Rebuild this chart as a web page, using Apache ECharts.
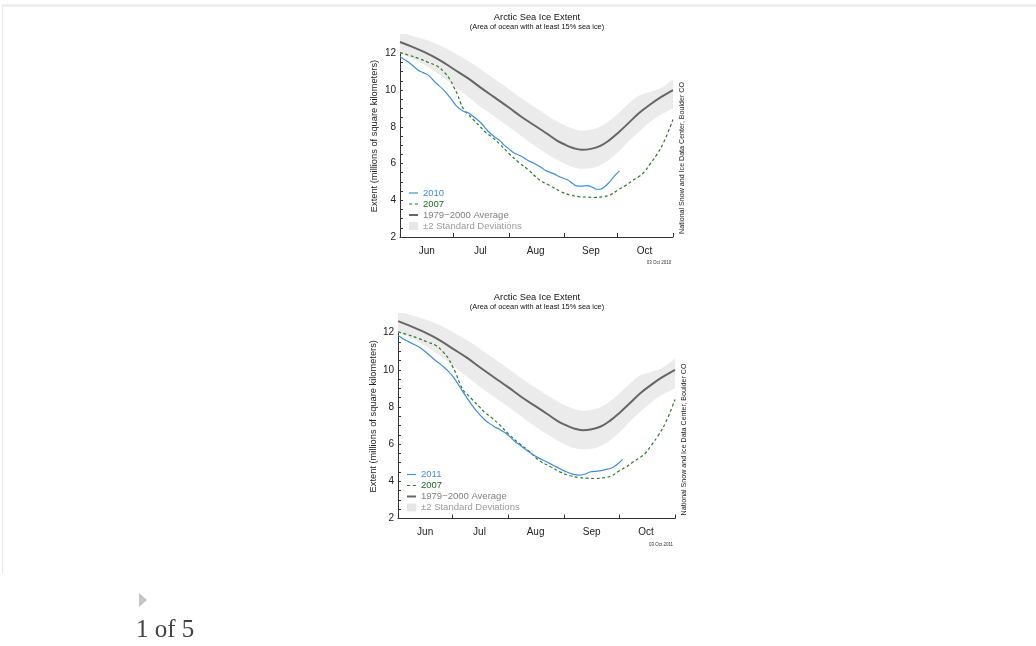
<!DOCTYPE html>
<html>
<head>
<meta charset="utf-8"/>
<title>Arctic Sea Ice Extent</title>
<style>
    html, body { margin: 0; padding: 0; background: #fff; }
    #page { position: relative; width: 1036px; height: 646px; overflow: hidden; }
    #frame { position: absolute; left: 2px; top: 4px; width: 1040px; height: 566px;
             border-top: 3px solid #efefef; border-left: 1px solid #e6e6e6; }
    #main { position: absolute; left: 0; top: 0; width: 1036px; height: 646px; }
    #arrow { position: absolute; left: 139px; top: 593px; width: 0; height: 0;
             border-left: 8px solid #c4c4c4; border-top: 7px solid transparent; border-bottom: 7px solid transparent; }
    #pager { position: absolute; left: 136px; top: 615px; font: 25px "Liberation Serif", "DejaVu Serif", serif; color: #444; }
</style>
<script src="https://cdn.jsdelivr.net/npm/echarts@6.0.0/dist/echarts.min.js"></script>
</head>
<body>
<div id="page">
    <div id="frame"></div>
    <div id="main"></div>
    <div id="arrow"></div>
    <div id="pager">1 of 5</div>
</div>
<script type="text/javascript">
    // x axis: one category per day, Jun 1 .. Nov 1
    var months = ['Jun', 'Jul', 'Aug', 'Sep', 'Oct']
    var monthLen = [30, 31, 31, 30, 31]

    // 1979-2000 average and +-2 standard deviation band (days after Jun 1)
    var avgDays = [0, 7, 14, 22, 30, 38, 45, 53, 61, 68, 75, 82, 88, 92, 97, 102, 107, 112, 117, 122, 128, 134, 140, 146, 153]
    var avgVals = [12.62, 12.35, 12.05, 11.65, 11.15, 10.65, 10.15, 9.6, 9.05, 8.55, 8.1, 7.65, 7.25, 7.05, 6.85, 6.75, 6.8, 6.95, 7.25, 7.65, 8.2, 8.75, 9.2, 9.6, 10.0]
    var sdUpper = [13.15, 12.95, 12.75, 12.45, 12.05, 11.6, 11.15, 10.6, 10.05, 9.55, 9.1, 8.65, 8.3, 8.1, 7.9, 7.8, 7.85, 8.0, 8.3, 8.7, 9.25, 9.7, 9.9, 10.1, 10.6]
    var sdLower = [12.0, 11.7, 11.35, 10.85, 10.25, 9.65, 9.1, 8.55, 8.0, 7.5, 7.0, 6.55, 6.2, 6.0, 5.8, 5.72, 5.75, 5.9, 6.2, 6.6, 7.2, 7.75, 8.25, 8.65, 9.0]

    var y2007Days = [0, 5, 11, 16, 21, 25, 28, 30, 32, 34, 36, 38, 41, 45, 48, 52, 56, 61, 67, 72, 78, 84, 90, 95, 100, 105, 109, 114, 118, 122, 126, 130, 134, 137, 140, 144, 148, 153]
    var y2007Vals = [12.04, 11.9, 11.7, 11.5, 11.3, 10.95, 10.58, 10.2, 9.8, 9.3, 8.9, 8.7, 8.4, 8.0, 7.7, 7.4, 7.05, 6.55, 6.03, 5.65, 5.12, 4.8, 4.48, 4.3, 4.2, 4.17, 4.15, 4.2, 4.3, 4.55, 4.78, 5.05, 5.3, 5.55, 5.95, 6.5, 7.2, 8.4]

    var y2010Days = [0, 5, 10, 13, 16, 20, 24, 28, 32, 36, 38, 42, 45, 49, 53, 56, 58, 61, 64, 68, 72, 75, 79, 82, 86, 90, 94, 97, 99, 102, 105, 108, 110, 112, 114, 117, 120, 123]
    var y2010Vals = [11.82, 11.5, 11.1, 10.95, 10.8, 10.4, 10.05, 9.6, 9.1, 8.82, 8.78, 8.49, 8.25, 7.8, 7.45, 7.25, 7.03, 6.8, 6.57, 6.4, 6.15, 6.02, 5.8, 5.6, 5.45, 5.25, 5.1, 4.9, 4.78, 4.77, 4.8, 4.7, 4.6, 4.6, 4.68, 4.95, 5.3, 5.6]

    var y2011Days = [0, 4, 8, 12, 16, 20, 24, 28, 31, 34, 38, 42, 45, 48, 50, 53, 56, 60, 64, 68, 72, 76, 80, 84, 88, 92, 96, 100, 103, 106, 110, 114, 118, 121, 124]
    var y2011Vals = [11.84, 11.6, 11.4, 11.2, 10.9, 10.55, 10.25, 9.9, 9.55, 9.1, 8.5, 7.95, 7.6, 7.3, 7.15, 6.95, 6.8, 6.55, 6.2, 5.9, 5.6, 5.35, 5.15, 4.95, 4.75, 4.55, 4.4, 4.33, 4.38, 4.5, 4.55, 4.62, 4.72, 4.9, 5.18]

    var FONT = '"Liberation Sans", Arial, Helvetica, sans-serif'
    var BLUE = '#3d8fdc', GREEN = '#2f7a2f', AVG = '#666666', BAND = '#ebebeb'

    // legend icons (short line strokes)
    var ICON_LINE = 'path://M0,0H10V1.3H0Z'
    var ICON_DASH = 'path://M0,0H3.6V1.3H0ZM6.4,0H10V1.3H6.4Z'
    var ICON_AVG = 'path://M0,0H10V2.2H0Z'

    var cats = []
    months.forEach(function (m, i) {
        for (var d = 1; d <= monthLen[i]; d++) cats.push(m + ' ' + d)
    })
    cats.push('Nov 1')

    function zip(days, vals) {
        return days.map(function (d, i) { return [d, vals[i]] })
    }

    // two panels: 2010 on top, 2011 below
    var panels = [
        {year: '2010', days: y2010Days, vals: y2010Vals, date: '03 Oct 2010',
         left: 400, top: 35, width: 273, height: 202, titleY: 17, legendLeft: 409, legendTop: 188, nameGap: 21},
        {year: '2011', days: y2011Days, vals: y2011Vals, date: '03 Oct 2011',
         left: 398, top: 314, width: 277, height: 204.5, titleY: 297, legendLeft: 407, legendTop: 469.5, nameGap: 20.5}
    ]

    var grids = [], xAxes = [], yAxes = [], series = [], legends = [], graphics = []

    panels.forEach(function (p, gi) {
        grids.push({left: p.left, top: p.top, width: p.width, height: p.height, containLabel: false})
        xAxes.push({
            type: 'category', gridIndex: gi, data: cats, boundaryGap: false,
            axisLine: {lineStyle: {color: '#333', width: 1}},
            axisTick: {inside: true, length: 4, lineStyle: {color: '#333'},
                interval: function (i, v) { return i > 0 && / 1$/.test(v) }},
            axisLabel: {interval: function (i, v) { return / 16$/.test(v) },
                formatter: function (v) { return v.split(' ')[0] },
                margin: 9, fontSize: 10, color: '#222', fontFamily: FONT},
            splitLine: {show: false}
        })
        yAxes.push({
            type: 'value', gridIndex: gi, min: 2, max: 13, interval: 0.5,
            axisLine: {show: true, lineStyle: {color: '#333', width: 1}},
            axisTick: {show: true, inside: true, length: 3, lineStyle: {color: '#333'}},
            axisLabel: {formatter: function (v) { return (v % 2 === 0 && v < 13) ? String(v) : '' },
                margin: 4, fontSize: 10, color: '#222', fontFamily: FONT},
            splitLine: {show: false},
            name: 'Extent (millions of square kilometers)', nameLocation: 'middle', nameGap: p.nameGap,
            nameTextStyle: {fontSize: 9.3, color: '#222', fontFamily: FONT}
        })

        var base = {type: 'line', xAxisIndex: gi, yAxisIndex: gi, symbol: 'none', smooth: 0.4, silent: true}
        series.push(Object.assign({}, base, {
            name: 'sdbase' + gi, stack: 'sd' + gi, data: zip(avgDays, sdLower),
            lineStyle: {opacity: 0}
        }))
        series.push(Object.assign({}, base, {
            name: '±2 Standard Deviations', stack: 'sd' + gi, color: BAND,
            data: zip(avgDays, sdUpper.map(function (u, i) { return u - sdLower[i] })),
            lineStyle: {opacity: 0}, areaStyle: {color: BAND, opacity: 1}
        }))
        series.push(Object.assign({}, base, {
            name: '1979−2000 Average', color: AVG, data: zip(avgDays, avgVals),
            lineStyle: {color: AVG, width: 2}
        }))
        series.push(Object.assign({}, base, {
            name: '2007', color: GREEN, data: zip(y2007Days, y2007Vals),
            lineStyle: {color: GREEN, width: 1.2, type: [3, 2.5]}
        }))
        series.push(Object.assign({}, base, {
            name: p.year, color: BLUE, data: zip(p.days, p.vals),
            lineStyle: {color: BLUE, width: 1.2}
        }))

        legends.push({
            left: p.legendLeft, top: p.legendTop, orient: 'vertical', padding: 0,
            itemWidth: 9, itemHeight: 8, itemGap: 1, selectedMode: false, symbolKeepAspect: true,
            textStyle: {fontSize: 9.5, lineHeight: 8.2, fontFamily: FONT},
            data: [
                {name: p.year, icon: ICON_LINE, itemStyle: {color: BLUE}, textStyle: {color: BLUE}},
                {name: '2007', icon: ICON_DASH, itemStyle: {color: GREEN}, textStyle: {color: '#1f6a1f'}},
                {name: '1979−2000 Average', icon: ICON_AVG, itemStyle: {color: AVG}, textStyle: {color: '#808080'}},
                {name: '±2 Standard Deviations', icon: 'rect', itemStyle: {color: '#e6e6e6'}, textStyle: {color: '#9a9a9a'}}
            ]
        })

        graphics.push(
            {type: 'text', x: 537, y: p.titleY, silent: true,
             style: {text: 'Arctic Sea Ice Extent', font: '9.3px ' + FONT, fill: '#111', align: 'center', verticalAlign: 'middle'}},
            {type: 'text', x: 537, y: p.titleY + 9.5, silent: true,
             style: {text: '(Area of ocean with at least 15% sea ice)', font: '7.4px ' + FONT, fill: '#111', align: 'center', verticalAlign: 'middle'}},
            {type: 'text', x: p.left + p.width + 9, y: p.top + p.height - 79, rotation: Math.PI / 2, silent: true,
             style: {text: 'National Snow and Ice Data Center, Boulder CO', font: '7.1px ' + FONT, fill: '#222', align: 'center', verticalAlign: 'middle'}},
            {type: 'text', x: p.left + p.width - 14, y: p.top + p.height + 26, silent: true,
             style: {text: p.date, font: '4.5px ' + FONT, fill: '#333', align: 'center', verticalAlign: 'middle'}}
        )
    })

    var chart = echarts.init(document.getElementById('main'), null, {renderer: 'canvas'})
    chart.setOption({
        animation: false,
        backgroundColor: 'transparent',
        textStyle: {fontFamily: FONT},
        grid: grids,
        xAxis: xAxes,
        yAxis: yAxes,
        legend: legends,
        graphic: graphics,
        series: series
    })
</script>
</body>
</html>
